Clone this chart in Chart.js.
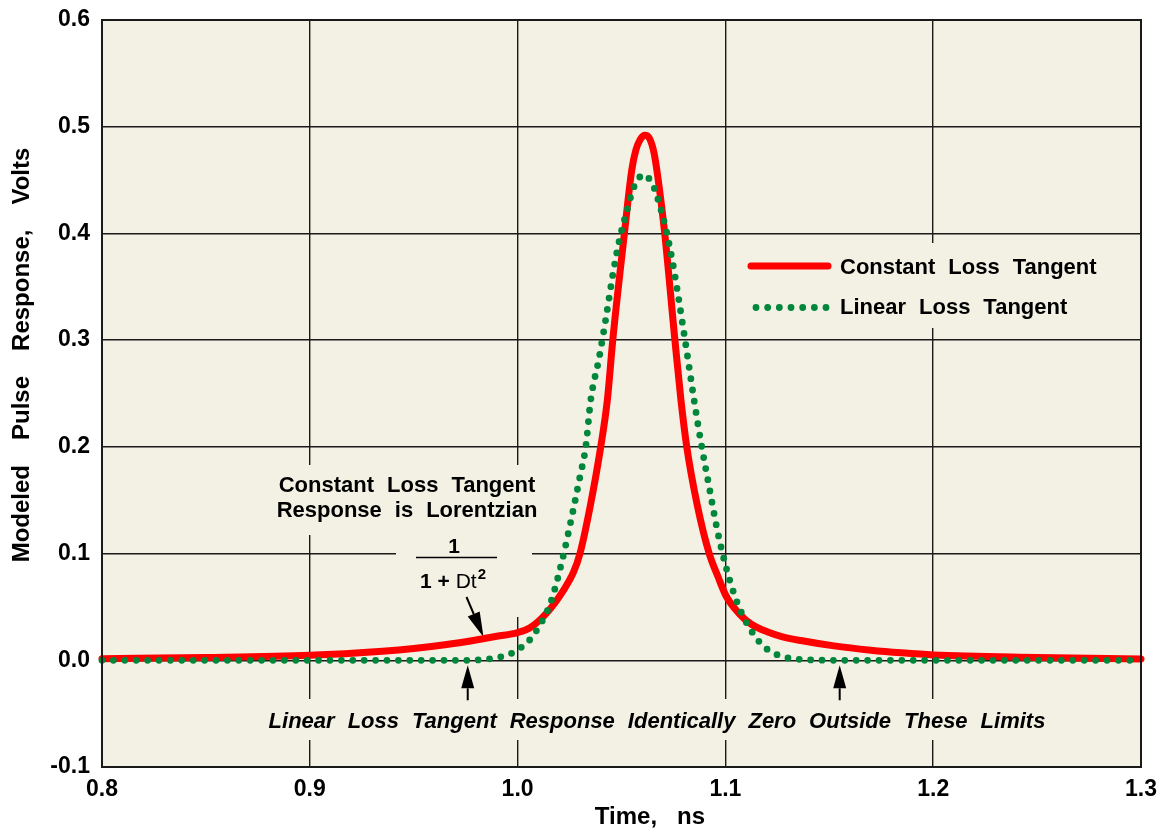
<!DOCTYPE html>
<html>
<head>
<meta charset="utf-8">
<script src="https://cdn.jsdelivr.net/npm/chart.js@4.4.1/dist/chart.umd.min.js"></script>
<style>
  html, body { margin: 0; padding: 0; background: #ffffff; }
  #wrap { width: 1163px; height: 832px; position: relative; }
</style>
</head>
<body>
<div id="wrap"><canvas id="c" width="1163" height="832"></canvas></div>
<script>
// ---- data ----
const constX = [0.80, 0.85, 0.90, 0.935, 0.95, 0.965, 0.98, 0.99, 1.00, 1.006, 1.0143, 1.0222, 1.027, 1.03, 1.035, 1.04, 1.0432, 1.0458, 1.0514, 1.0549, 1.0569, 1.059, 1.0613, 1.0635, 1.0657, 1.0681, 1.0708, 1.0757, 1.0786, 1.0814, 1.0865, 1.0922, 1.0965, 1.1004, 1.1065, 1.1123, 1.1204, 1.1267, 1.1363, 1.1523, 1.17, 1.1846, 1.20, 1.25, 1.30];
const constY = [0.0015, 0.0026, 0.0047, 0.0085, 0.011, 0.0145, 0.019, 0.0225, 0.026, 0.0305, 0.045, 0.066, 0.083, 0.100, 0.145, 0.200, 0.244, 0.300, 0.400, 0.459, 0.478, 0.488, 0.492, 0.489, 0.475, 0.444, 0.400, 0.300, 0.244, 0.200, 0.145, 0.100, 0.078, 0.060, 0.044, 0.034, 0.0265, 0.0225, 0.0185, 0.0135, 0.0095, 0.0070, 0.0050, 0.0027, 0.0013];

const linX = [0.80, 0.976, 0.985, 0.990, 0.9958, 1.0005, 1.0047, 1.011, 1.0159, 1.0215, 1.0264, 1.0300, 1.0328, 1.0352, 1.0392, 1.0429, 1.0464, 1.0496, 1.0524, 1.0553, 1.0577, 1.0605, 1.0652, 1.0686, 1.0713, 1.0746, 1.0773, 1.0798, 1.0823, 1.0847, 1.0882, 1.0922, 1.0962, 1.1002, 1.1047, 1.1091, 1.1147, 1.1184, 1.1227, 1.128, 1.1336, 1.155, 1.30];
const linY = [0, 0, 0.001, 0.0025, 0.0053, 0.0106, 0.0166, 0.034, 0.054, 0.094, 0.1375, 0.172, 0.200, 0.244, 0.283, 0.3255, 0.368, 0.399, 0.4196, 0.440, 0.450, 0.455, 0.445, 0.425, 0.4046, 0.373, 0.3414, 0.310, 0.278, 0.2468, 0.2046, 0.1624, 0.121, 0.088, 0.0593, 0.039, 0.0213, 0.013, 0.0072, 0.0031, 0.0012, 0, 0];

const xTickLabels = ['0.8', '0.9', '1.0', '1.1', '1.2', '1.3'];
const yTickLabels = ['-0.1', '0.0', '0.1', '0.2', '0.3', '0.4', '0.5', '0.6'];
const seriesNames = ['Constant Loss Tangent', 'Linear Loss Tangent'];
const zeroLimits = [0.976, 1.155];
const xTitle = 'Time, ns';
const yTitle = 'Modeled Pulse Response, Volts';

// ---- styles ----
const FONT = '"Liberation Sans", Arial, Helvetica, sans-serif';
const PLOT_BG = '#f2f1e4';
const RED = '#ff0000';
const GREEN = '#00873c';

function toPoints(xs, ys) { return xs.map((x, i) => ({ x: x, y: ys[i] })); }

function wordsWidth(ctx, words, gap) {
  let w = 0;
  words.forEach((wd, i) => { w += ctx.measureText(wd).width + (i ? gap : 0); });
  return w;
}
function drawWords(ctx, text, x, y, gap, align) {
  const words = text.split(' ');
  const total = wordsWidth(ctx, words, gap);
  let cx = align === 'left' ? x : x - total / 2;
  ctx.textAlign = 'left';
  words.forEach(wd => {
    ctx.fillText(wd, cx, y);
    cx += ctx.measureText(wd).width + gap;
  });
}
function arrow(ctx, x0, y0, x1, y1, headLen, headW) {
  const dx = x1 - x0, dy = y1 - y0;
  const L = Math.hypot(dx, dy);
  const ux = dx / L, uy = dy / L;
  const bx = x1 - ux * headLen, by = y1 - uy * headLen;
  ctx.strokeStyle = '#000';
  ctx.lineWidth = 2;
  ctx.beginPath();
  ctx.moveTo(x0, y0);
  ctx.lineTo(bx, by);
  ctx.stroke();
  ctx.fillStyle = '#000';
  ctx.beginPath();
  ctx.moveTo(x1, y1);
  ctx.lineTo(bx - uy * headW / 2, by + ux * headW / 2);
  ctx.lineTo(bx + uy * headW / 2, by - ux * headW / 2);
  ctx.closePath();
  ctx.fill();
}

const decor = {
  id: 'decor',
  beforeDraw(chart) {
    const { ctx, chartArea: a } = chart;
    ctx.save();
    ctx.fillStyle = PLOT_BG;
    ctx.fillRect(a.left, a.top, a.right - a.left, a.bottom - a.top);
    ctx.restore();
  },
  beforeDatasetsDraw(chart) {
    const { ctx } = chart;
    const xs = chart.scales.x, ys = chart.scales.y;
    ctx.save();
    // background boxes that break the grid behind the text
    ctx.fillStyle = PLOT_BG;
    ctx.fillRect(266, 465, 280, 70);     // Lorentzian title
    ctx.fillRect(396, 535, 136, 82);     // fraction + arrow
    ctx.fillRect(736, 243, 380, 85);     // legend
    ctx.fillRect(258, 699, 800, 41);     // bottom note

    ctx.fillStyle = '#000';
    ctx.textBaseline = 'alphabetic';
    ctx.font = 'bold 22px ' + FONT;
    drawWords(ctx, 'Constant Loss Tangent', 407, 492, 13, 'center');
    drawWords(ctx, 'Response is Lorentzian', 407, 517, 13, 'center');

    // fraction 1 / (1 + Dt^2)
    ctx.font = 'bold 21px ' + FONT;
    ctx.textAlign = 'center';
    ctx.fillText('1', 454, 553);
    ctx.strokeStyle = '#000';
    ctx.lineWidth = 1.5;
    ctx.beginPath();
    ctx.moveTo(416, 557.5);
    ctx.lineTo(497, 557.5);
    ctx.stroke();
    ctx.textAlign = 'left';
    const p1 = '1 + ';
    ctx.font = 'bold 21px ' + FONT;
    const w1 = ctx.measureText(p1).width;
    ctx.font = '21px ' + FONT;
    const w2 = ctx.measureText('Dt').width;
    ctx.font = 'bold 15px ' + FONT;
    const w3 = ctx.measureText('2').width;
    let fx = 453 - (w1 + w2 + w3 + 1) / 2;
    ctx.font = 'bold 21px ' + FONT;
    ctx.fillText(p1, fx, 588);
    ctx.font = '21px ' + FONT;
    ctx.fillText('Dt', fx + w1, 588);
    ctx.font = 'bold 15px ' + FONT;
    ctx.fillText('2', fx + w1 + w2 + 1, 579);

    // arrow to the red curve
    arrow(ctx, 466.5, 597, 483.5, 637, 25, 13);

    // arrows marking the zero limits of the linear curve
    const y0 = ys.getPixelForValue(0);
    zeroLimits.forEach(v => {
      const px = xs.getPixelForValue(v);
      arrow(ctx, px, y0 + 40, px, y0 + 5, 23, 13);
    });

    // bottom note
    ctx.fillStyle = '#000';
    ctx.font = 'italic bold 22px ' + FONT;
    drawWords(ctx, 'Linear Loss Tangent Response Identically Zero Outside These Limits', 657, 728, 13, 'center');

    // legend
    ctx.font = 'bold 22px ' + FONT;
    drawWords(ctx, seriesNames[0], 840, 274, 13, 'left');
    drawWords(ctx, seriesNames[1], 840, 314, 13, 'left');
    ctx.strokeStyle = RED;
    ctx.lineWidth = 7;
    ctx.lineCap = 'round';
    ctx.beginPath();
    ctx.moveTo(751, 266);
    ctx.lineTo(828, 266);
    ctx.stroke();
    ctx.fillStyle = GREEN;
    for (let i = 0; i < 7; i++) {
      ctx.beginPath();
      ctx.arc(756 + i * 11.67, 307.5, 3.4, 0, Math.PI * 2);
      ctx.fill();
    }
    ctx.restore();
  },
  afterDraw(chart) {
    const { ctx, chartArea: a } = chart;
    ctx.save();
    ctx.strokeStyle = '#1a1a1a';
    ctx.lineWidth = 2;
    ctx.strokeRect(a.left, a.top, a.right - a.left, a.bottom - a.top);

    // axis titles
    ctx.fillStyle = '#000';
    ctx.textBaseline = 'middle';
    ctx.font = 'bold 24px ' + FONT;
    drawWords(ctx, xTitle, 650, 817, 20, 'center');
    ctx.translate(22, 355);
    ctx.rotate(-Math.PI / 2);
    drawWords(ctx, yTitle, 0, 0, 25, 'center');
    ctx.restore();
  }
};

new Chart(document.getElementById('c'), {
  type: 'line',
  data: {
    datasets: [
      {
        label: seriesNames[1],
        data: toPoints(linX, linY),
        borderColor: GREEN,
        borderWidth: 6.8,
        borderDash: [0, 11.4],
        borderCapStyle: 'round',
        pointRadius: 0,
        cubicInterpolationMode: 'monotone',
        fill: false,
        clip: false,
        order: 1
      },
      {
        label: seriesNames[0],
        data: toPoints(constX, constY),
        borderColor: RED,
        borderWidth: 7,
        borderCapStyle: 'round',
        borderJoinStyle: 'round',
        pointRadius: 0,
        cubicInterpolationMode: 'monotone',
        fill: false,
        clip: false,
        order: 2
      }
    ]
  },
  options: {
    responsive: false,
    animation: false,
    devicePixelRatio: 1,
    layout: { padding: { top: 20, right: 22, left: 0, bottom: 0 } },
    plugins: { legend: { display: false }, tooltip: { enabled: false } },
    scales: {
      x: {
        type: 'linear',
        min: 0.8, max: 1.3,
        afterFit(s) { s.height = 65; s.paddingLeft = 0; s.paddingRight = 0; },
        ticks: {
          stepSize: 0.1,
          padding: 9,
          color: '#000',
          font: { family: FONT, size: 23, weight: 'bold' },
          callback: (v, i) => xTickLabels[i]
        },
        grid: { color: '#1a1a1a', lineWidth: 1.4, drawTicks: false },
        border: { display: false },
        title: { display: false }
      },
      y: {
        type: 'linear',
        min: -0.1, max: 0.6,
        afterFit(s) { s.width = 102; s.paddingTop = 0; s.paddingBottom = 0; },
        ticks: {
          stepSize: 0.1,
          padding: 12,
          color: '#000',
          font: { family: FONT, size: 23, weight: 'bold' },
          callback: (v, i) => yTickLabels[i]
        },
        grid: { color: '#1a1a1a', lineWidth: 1.4, drawTicks: false },
        border: { display: false },
        title: { display: false }
      }
    }
  },
  plugins: [decor]
});
</script>
</body>
</html>
